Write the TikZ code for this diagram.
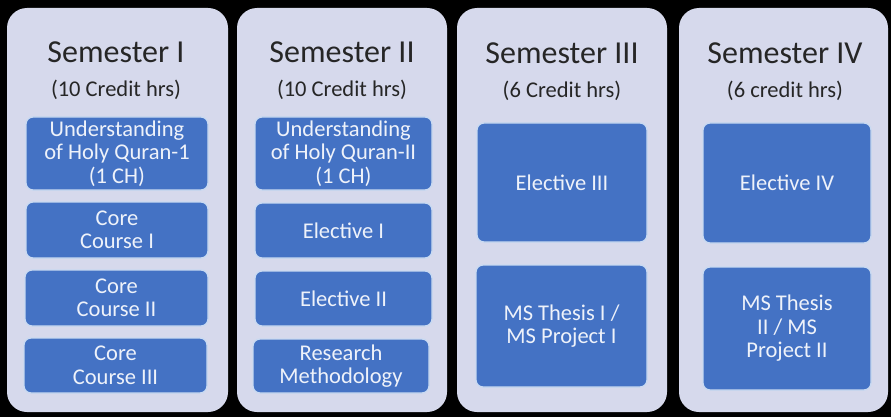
\documentclass[tikz,border=0pt]{standalone}
\usepackage{fontspec}
\setmainfont{Carlito}
\definecolor{panelbg}{HTML}{D6D9EC}
\definecolor{boxblue}{HTML}{4472C4}
\definecolor{boxedge}{HTML}{C9DAF2}
\definecolor{boxtext}{HTML}{EEF2FA}
\definecolor{titletext}{HTML}{262626}
\tikzset{
  panel/.style={fill=panelbg, draw=none, rounded corners=20pt, inner sep=0pt},
  semtitle/.style={font=\fontsize{32}{34}\selectfont, text=titletext, inner sep=0pt},
  semsub/.style={font=\fontsize{22.5}{24}\selectfont, text=titletext, inner sep=0pt},
  course/.style={fill=boxblue, draw=boxedge, line width=1.3pt, rounded corners=7pt,
    text=boxtext, align=center, inner sep=0pt, font=\fontsize{22.5}{23.5}\selectfont},
}
\newcommand{\boxat}[6]{% name, x1, y1, x2, y2, text
  \node[course, minimum width={#4-#2}, minimum height={#5-#3}] (#1) at ({(#2+#4)/2},{(#3+#5)/2}) {#6};}
\begin{document}
\begin{tikzpicture}[x=1pt, y=-1pt]
\fill[black] (0,0) rectangle (891,417);
\useasboundingbox (0,0) rectangle (891,417);
% panels
\node[panel, minimum width=221pt, minimum height=404pt] (p1) at (117.5,210) {};
\node[panel, minimum width=210pt, minimum height=404pt] (p2) at (342,210) {};
\node[panel, minimum width=210pt, minimum height=404pt] (p3) at (562,210) {};
\node[panel, minimum width=209pt, minimum height=404pt] (p4) at (783.5,210) {};
% titles
\node[semtitle] (t1) at (116,52) {Semester I};
\node[semtitle] (t2) at (342,52) {Semester II};
\node[semtitle] (t3) at (562,53) {Semester III};
\node[semtitle] (t4) at (785,53) {Semester IV};
\node[semsub] (s1) at (116,90) {(10 Credit hrs)};
\node[semsub] (s2) at (342,90) {(10 Credit hrs)};
\node[semsub] (s3) at (562,91) {(6 Credit hrs)};
\node[semsub] (s4) at (785,91) {(6 credit hrs)};
% semester I
\boxat{a1}{26}{117}{208}{190}{Understanding\\of Holy Quran-1\\(1 CH)}
\boxat{a2}{26}{202}{208}{258}{\fontsize{22.5}{25}\selectfont Core\\Course I}
\boxat{a3}{25}{270}{208}{326}{\fontsize{22.5}{25}\selectfont Core\\Course II}
\boxat{a4}{24}{338}{207}{393}{\fontsize{22.5}{25}\selectfont Core\\Course III}
% semester II
\boxat{b1}{255}{117}{432}{190}{Understanding\\of Holy Quran-II\\(1 CH)}
\boxat{b2}{255}{203}{432}{258}{Elective I}
\boxat{b3}{255}{271}{432}{326}{Elective II}
\boxat{b4}{253}{339}{429}{393}{\fontsize{22.5}{25}\selectfont Research\\Methodology}
% semester III
\boxat{c1}{477}{123}{647}{242}{Elective III}
\boxat{c2}{476}{265}{647}{387}{\fontsize{22.5}{33}\selectfont MS Thesis I /\\MS Project I}
% semester IV
\boxat{d1}{703}{123}{871}{243}{Elective IV}
\boxat{d2}{703}{267}{871}{390}{\fontsize{22.5}{28}\selectfont MS Thesis\\II / MS\\Project II}
\end{tikzpicture}
\end{document}
